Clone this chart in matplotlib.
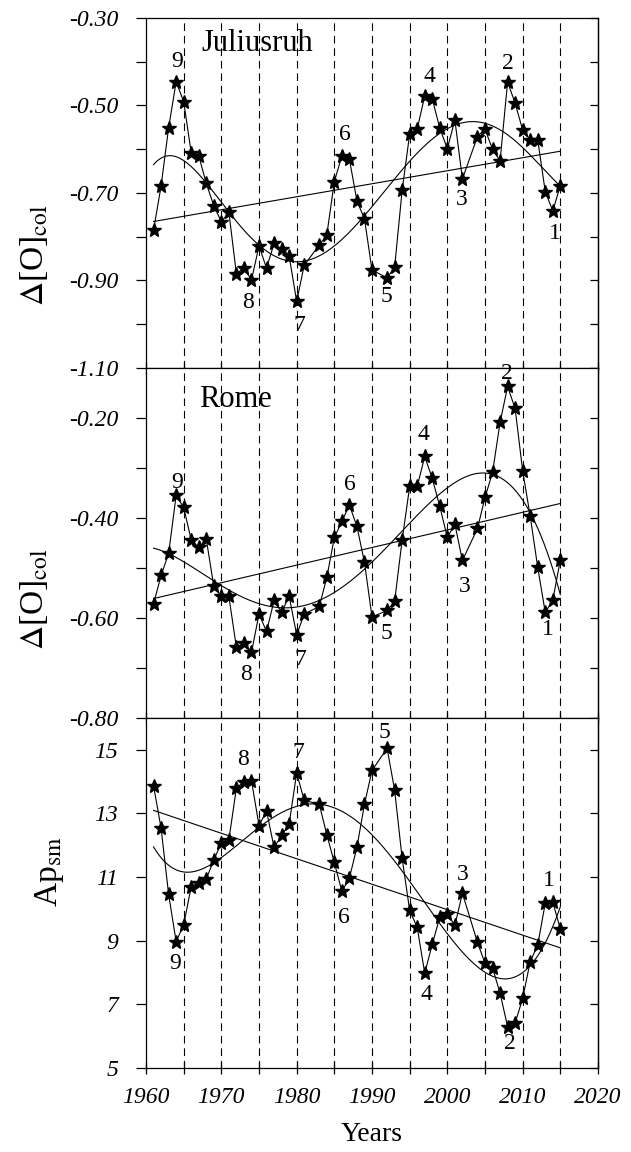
import numpy as np
import matplotlib
matplotlib.use('Agg')
import matplotlib.pyplot as plt

# Observation years (1982, 1991 and 2003 are absent in the series)
years = [1961, 1962, 1963, 1964, 1965, 1966, 1967, 1968, 1969, 1970,
         1971, 1972, 1973, 1974, 1975, 1976, 1977, 1978, 1979, 1980,
         1981, 1983, 1984, 1985, 1986, 1987, 1988, 1989, 1990, 1992,
         1993, 1994, 1995, 1996, 1997, 1998, 1999, 2000, 2001, 2002,
         2004, 2005, 2006, 2007, 2008, 2009, 2010, 2011, 2012, 2013,
         2014, 2015]

juliusruh = [-0.785, -0.684, -0.551, -0.446, -0.491, -0.608, -0.615, -0.678, -0.729, -0.766,
             -0.744, -0.885, -0.871, -0.899, -0.821, -0.872, -0.815, -0.829, -0.844, -0.948,
             -0.865, -0.819, -0.796, -0.674, -0.615, -0.623, -0.718, -0.759, -0.876, -0.894,
             -0.870, -0.694, -0.565, -0.554, -0.478, -0.485, -0.552, -0.599, -0.533, -0.668,
             -0.571, -0.554, -0.600, -0.627, -0.446, -0.495, -0.556, -0.579, -0.579, -0.697,
             -0.741, -0.683]

rome = [-0.572, -0.515, -0.471, -0.355, -0.379, -0.444, -0.459, -0.442, -0.537, -0.557,
        -0.557, -0.659, -0.651, -0.669, -0.592, -0.627, -0.565, -0.589, -0.556, -0.634,
        -0.592, -0.577, -0.519, -0.439, -0.407, -0.374, -0.417, -0.489, -0.598, -0.585,
        -0.567, -0.444, -0.337, -0.337, -0.277, -0.321, -0.377, -0.439, -0.412, -0.485,
        -0.421, -0.359, -0.309, -0.209, -0.137, -0.181, -0.306, -0.396, -0.499, -0.589,
        -0.564, -0.484]

ap_sm = [13.87, 12.54, 10.46, 8.97, 9.50, 10.70, 10.81, 10.94, 11.54, 12.07,
         12.17, 13.80, 14.00, 14.03, 12.62, 13.08, 11.93, 12.31, 12.67, 14.27,
         13.41, 13.29, 12.33, 11.46, 10.55, 10.97, 11.94, 13.29, 14.35, 15.05,
         13.74, 11.59, 9.95, 9.42, 7.98, 8.89, 9.74, 9.84, 9.48, 10.49,
         8.95, 8.29, 8.15, 7.35, 6.30, 6.41, 7.19, 8.34, 8.87, 10.18,
         10.21, 9.37]

cycle_numbers = ['9', '8', '7', '6', '5', '4', '3', '2', '1']

# where the cycle numbers sit in each panel (year, value)
label_pos_jul = [(1964.1, -0.400), (1973.6, -0.951), (1980.4, -1.004), (1986.4, -0.567),
                 (1991.9, -0.937), (1997.6, -0.434), (2001.9, -0.714), (2008.1, -0.404),
                 (2014.3, -0.792)]
label_pos_rome = [(1964.1, -0.329), (1973.3, -0.714), (1980.5, -0.683), (1987.1, -0.334),
                  (1991.9, -0.631), (1996.8, -0.234), (2002.3, -0.537), (2007.9, -0.112),
                  (2013.4, -0.624)]
label_pos_ap = [(1963.85, 8.29), (1972.9, 14.69), (1980.2, 14.90), (1986.2, 9.74),
                (1991.7, 15.53), (1997.2, 7.30), (2002.0, 11.07), (2008.3, 5.78),
                (2013.5, 10.89)]

plt.rcParams['font.family'] = 'Liberation Serif'
plt.rcParams['mathtext.fontset'] = 'stix'
plt.rcParams['axes.unicode_minus'] = False
plt.rcParams['lines.scale_dashes'] = False

fig = plt.figure(figsize=(6.31, 11.52), dpi=100)

left, width, height = 0.2314, 0.7163, 0.30382
panels = [
    dict(y=juliusruh, bottom=0.68056, ylim=(-1.10, -0.30), ticks=np.arange(-1.10, -0.295, 0.1),
         labpos=label_pos_jul, name='Juliusruh', name_pos=(1974.8, -0.358)),
    dict(y=rome, bottom=0.37674, ylim=(-0.80, -0.10), ticks=np.arange(-0.80, -0.195, 0.1),
         labpos=label_pos_rome, name='Rome', name_pos=(1971.9, -0.164)),
    dict(y=ap_sm, bottom=0.07292, ylim=(5, 16), ticks=np.arange(5, 16, 2),
         labpos=label_pos_ap, name=None, name_pos=None),
]

x = np.array(years, dtype=float)
xs = np.linspace(1961, 2015, 400)

for i, p in enumerate(panels):
    ax = fig.add_axes([left, p['bottom'], width, height])
    y = np.array(p['y'])

    for yr in range(1965, 2016, 5):
        ax.axvline(yr, color='black', lw=0.8, linestyle=(0, (5.5, 3.5)), zorder=1)

    # linear trend and 5th-degree polynomial fit
    lin = np.polyfit(x, y, 1)
    ax.plot(xs, np.polyval(lin, xs), color='black', lw=0.8, zorder=2)
    poly = np.polyfit(x - 1988, y, 5)
    ax.plot(xs, np.polyval(poly, xs - 1988), color='black', lw=0.8, zorder=2)

    ax.plot(x, y, color='black', lw=0.8, marker='*', markersize=10, zorder=3)

    for num, (tx, ty) in zip(cycle_numbers, p['labpos']):
        ax.text(tx, ty, num, fontsize=17, ha='center', va='center')
    if p['name']:
        ax.text(p['name_pos'][0], p['name_pos'][1], p['name'], fontsize=22,
                ha='center', va='center')

    ax.set_xlim(1960, 2020)
    ax.set_ylim(*p['ylim'])

    ticks = p['ticks']
    ax.set_yticks(ticks)
    if i < 2:
        labels = [f'{v:.2f}' if k % 2 == 0 else '' for k, v in enumerate(ticks)]
    else:
        labels = [f'{v:.0f}' for v in ticks]
    ax.set_yticklabels(labels, fontstyle='italic', fontsize=17)
    ax.tick_params(axis='y', direction='out', length=7, width=0.9, pad=13)

    sec = ax.secondary_yaxis('right')
    sec.set_yticks(ticks)
    sec.tick_params(direction='in', length=6, width=0.9, labelright=False)

    ax.set_xticks(np.arange(1960, 2021, 5))
    ax.tick_params(axis='x', direction='inout', length=9, width=0.9, pad=9)
    if i == 2:
        xl = [str(v) if v % 10 == 0 else '' for v in range(1960, 2021, 5)]
        ax.set_xticklabels(xl, fontstyle='italic', fontsize=17)
    else:
        ax.tick_params(axis='x', labelbottom=False)

    for s in ax.spines.values():
        s.set_linewidth(0.9)
    sec.spines['right'].set_linewidth(0.9)

fig.text(0.0539, 0.7778, r'$\Delta$[O]$_{\rm col}$', rotation=90, fontsize=24,
         ha='center', va='center')
fig.text(0.0539, 0.4792, r'$\Delta$[O]$_{\rm col}$', rotation=90, fontsize=24,
         ha='center', va='center')
fig.text(0.0792, 0.2431, r'Ap$_{\rm sm}$', rotation=90, fontsize=24,
         ha='center', va='center')
fig.text(0.589, 0.0148, 'Years', fontsize=20, ha='center', va='center')

fig.savefig('out.png', dpi=100)
